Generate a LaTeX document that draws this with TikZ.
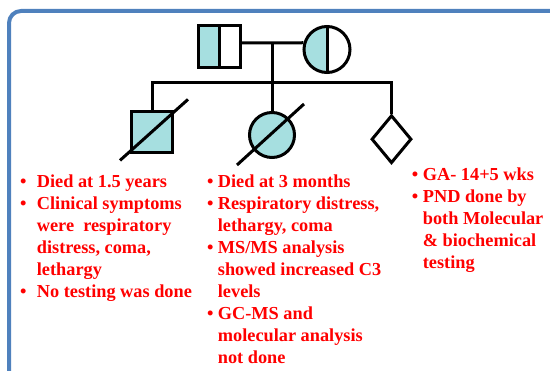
\documentclass[tikz,border=0pt]{standalone}
\usepackage{fontspec}
\setmainfont{Liberation Serif}
\usetikzlibrary{shapes.geometric}
\definecolor{frameblue}{HTML}{4F81BD}
\definecolor{pedfill}{HTML}{A6DFE0}
\definecolor{txtred}{HTML}{FF0000}
\newcommand{\halffill}{\fill[pedfill] (path picture bounding box.north west) rectangle (path picture bounding box.south);}
\begin{document}
\begin{tikzpicture}[x=1pt,y=-1pt,
  ped/.style={line width=3pt, draw=black, inner sep=0pt, fill=white},
  pedline/.style={line width=3pt, draw=black},
  notes/.style={anchor=base west, inner sep=0pt, text=txtred,
    font=\fontsize{18.3}{22}\selectfont\bfseries}]
\useasboundingbox (0,0) rectangle (550,371);
\clip (0,0) rectangle (550,371);
\draw[frameblue, line width=4pt, rounded corners=12pt] (9,11) rectangle (575,395);
% parents
\node[ped, rectangle, minimum size=42pt, path picture={\halffill}] (father) at (219,47) {};
\draw[pedline] (father.north) -- (father.south);
\node[ped, circle, minimum size=46pt, path picture={\halffill}] (mother) at (327,49.5) {};
\draw[pedline] (mother.north) -- (mother.south);
% children
\node[ped, rectangle, minimum size=41pt, fill=pedfill] (c1) at (152,132.4) {};
\node[ped, circle, minimum size=45pt, fill=pedfill] (c2) at (272,135) {};
\node[ped, diamond, minimum width=40pt, minimum height=48pt] (c3) at (391.5,139.2) {};
\coordinate (m) at (272,43);
\coordinate (sib) at (272,83);
\draw[pedline] (father.east |- m) -- (mother.164);
\draw[pedline] (m) -- (c2.north);
\draw[pedline] (c1.north) -- (c1.north |- sib) -- (c3.north |- sib) -- (c3.north);
\draw[pedline] ([shift={(-32,28)}]c1.center) -- ([shift={(36,-33)}]c1.center);
\draw[pedline] ([shift={(-35,30)}]c2.center) -- ([shift={(32,-31)}]c2.center);
% notes
\node[notes] (n1) at (20,188) {\begin{tabular}[t]{@{}p{16.7pt}@{}l@{}}
\textbullet & Died at 1.5 years\\
\textbullet & Clinical symptoms\\
 & were\ \ respiratory\\
 & distress, coma,\\
 & lethargy\\
\textbullet & No testing was done
\end{tabular}};
\node[notes] (n2) at (207,188) {\begin{tabular}[t]{@{}p{10.7pt}@{}l@{}}
\textbullet & Died at 3 months\\
\textbullet & Respiratory distress,\\
 & lethargy, coma\\
\textbullet & MS/MS analysis\\
 & showed increased C3\\
 & levels\\
\textbullet & GC-MS and\\
 & molecular analysis\\
 & not done
\end{tabular}};
\node[notes] (n3) at (411.7,180.5) {\begin{tabular}[t]{@{}p{11pt}@{}l@{}}
\textbullet & GA- 14+5 wks\\
\textbullet & PND done by\\
 & both Molecular\\
 & \& biochemical\\
 & testing
\end{tabular}};
\end{tikzpicture}
\end{document}
